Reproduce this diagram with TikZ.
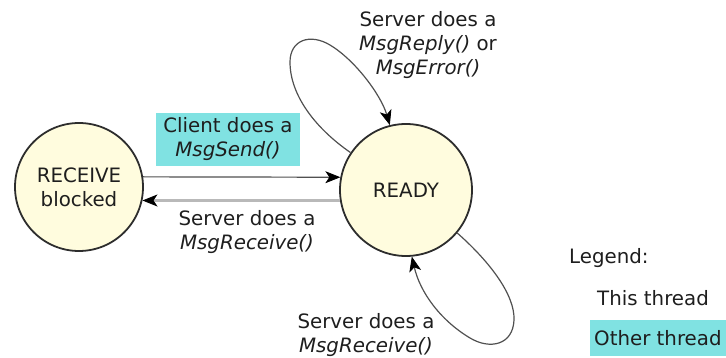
\documentclass[tikz,border=0pt]{standalone}
\usepackage{fontspec}
\setmainfont{DejaVu Sans}
\usetikzlibrary{arrows.meta}

\definecolor{statefill}{RGB}{255,252,222}
\definecolor{stateline}{RGB}{45,45,45}
\definecolor{otherthread}{RGB}{128,226,226}
\definecolor{textcol}{RGB}{30,30,30}
\definecolor{thisline}{RGB}{80,80,80}
\definecolor{otherline}{RGB}{185,185,185}

\tikzset{
  state/.style={circle, draw=stateline, line width=1.8pt, fill=statefill,
    inner sep=0pt, align=center, text=textcol},
  lbl/.style={align=center, inner sep=0pt, text=textcol},
  otherbox/.style={fill=otherthread, inner sep=0pt, align=center, text=textcol},
  tip/.style={-{Stealth[length=15pt,width=12pt,inset=4pt,color=black,line width=0.8pt]}},
  thisarrow/.style={tip, draw=thisline, line width=1.2pt},
  otherarrow/.style={tip, draw=otherline, line width=2.6pt},
}

\newcommand{\fn}[1]{\textit{#1}}

\begin{document}
\begin{tikzpicture}[x=1pt, y=-1pt,
  every node/.append style={font=\fontsize{19.8}{24}\selectfont}]
  \useasboundingbox (0,0) rectangle (726,358);

  % states
  \node[state, minimum size=128pt] (rb)  at (79,187)  {RECEIVE\\blocked};
  \node[state, minimum size=132pt] (rdy) at (406,190) {READY};

  % transition labels
  \node[otherbox, minimum width=144pt, minimum height=53pt] (send) at (228,139.5)
    {Client does a\\\fn{MsgSend()}};
  \node[lbl] (recv)  at (247,232) {Server does a\\\fn{MsgReceive()}};
  \node[lbl] (reply) at (428,45)  {Server does a\\\fn{MsgReply()} or\\\fn{MsgError()}};
  \node[lbl] (recv2) at (366,335) {Server does a\\\fn{MsgReceive()}};

  % transitions
  \draw[thisarrow]  (rb.9) -- (rdy.169);
  \draw[otherarrow] (rdy.189) -- (rb.-12);
  \draw[thisarrow]  (rdy.146) .. controls (315,128) and (290,95) .. (290,62)
                    .. controls (290,40) and (310,33) .. (330,45)
                    .. controls (355,60) and (381,95) .. (rdy.104);
  \draw[thisarrow]  (rdy.-40) .. controls (490,262) and (515,295) .. (514,320)
                    .. controls (513,345) and (490,350) .. (470,338)
                    .. controls (440,320) and (420,292) .. (rdy.-85);

  % legend
  \node[lbl, anchor=west] (leg) at (569,258) {Legend:};
  \node[lbl, anchor=west] (this) at (597,298) {This thread};
  \fill[otherthread] (590,320) rectangle (726,356);
  \node[lbl, anchor=west] (other) at (594,338) {Other thread};
\end{tikzpicture}
\end{document}
